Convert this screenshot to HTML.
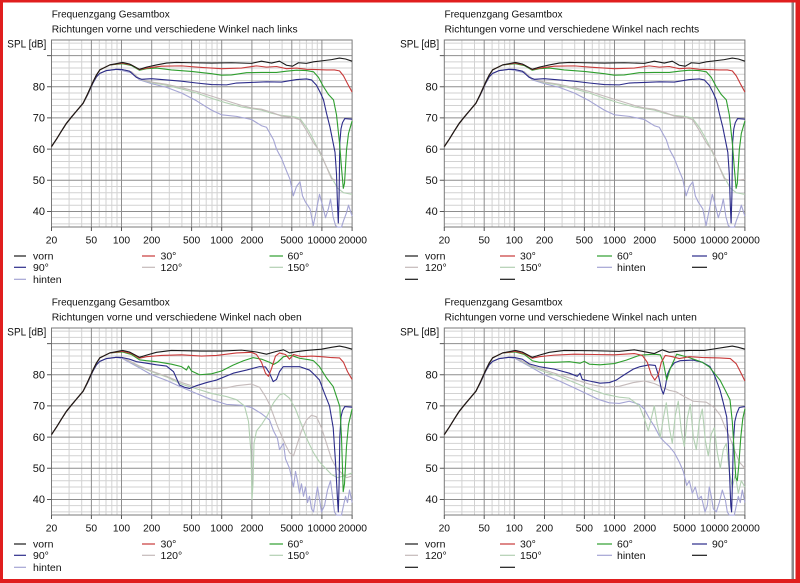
<!DOCTYPE html>
<html><head><meta charset="utf-8"><style>
html,body{margin:0;padding:0;background:#fff}
svg{display:block}
text{font-family:"Liberation Sans",Arial,sans-serif;fill:#111}
.t{font-size:10.5px}
.ax{font-size:11px}
.xl{font-size:10.3px}
.lg{font-size:10.5px}
polyline{fill:none;stroke-width:1.1;vector-effect:non-scaling-stroke;stroke-linejoin:round}
.k{stroke:#1a1a1a}.r{stroke:#c83a3a}.gr{stroke:#2e9e2e}.b{stroke:#2c2c8a}.c1{stroke:#c4baba}.c2{stroke:#b2d0b2}.h{stroke:#a4a4d4}
.ll{stroke-width:1.2;fill:none}
</style></head><body>
<svg width="800" height="583" viewBox="0 0 800 583" xmlns="http://www.w3.org/2000/svg">
<defs>
<g id="grid">
<path fill="none" stroke="#d2d2d2" stroke-width="1" d="M0 3.12H300.6M0 9.35H300.6M0 21.82H300.6M0 28.05H300.6M0 34.29H300.6M0 40.52H300.6M0 52.99H300.6M0 59.22H300.6M0 65.46H300.6M0 71.69H300.6M0 84.16H300.6M0 90.39H300.6M0 96.63H300.6M0 102.86H300.6M0 115.33H300.6M0 121.56H300.6M0 127.8H300.6M0 134.03H300.6M0 146.5H300.6M0 152.73H300.6M0 158.97H300.6M0 165.2H300.6M0 177.67H300.6M0 183.9H300.6
M17.6 0V187M30.2 0V187M47.8 0V187M54.5 0V187M60.3 0V187M65.5 0V187M117.8 0V187M130.4 0V187M148 0V187M154.7 0V187M160.5 0V187M165.6 0V187M218 0V187M230.6 0V187M248.2 0V187M254.9 0V187M260.7 0V187M265.8 0V187"/>
<path fill="none" stroke="#8e8e8e" stroke-width="1" d="M0 15.59H300.6M0 46.76H300.6M0 77.93H300.6M0 109.1H300.6M0 140.27H300.6M0 171.44H300.6
M39.9 0V187M70 0V187M100.2 0V187M140.1 0V187M170.2 0V187M200.4 0V187M240.3 0V187M270.4 0V187"/>
<rect x="0" y="0" width="300.6" height="187" fill="none" stroke="#7a7a7a" stroke-width="1"/>
<path fill="none" stroke="#555" stroke-width="1" d="M-4.5 15.59H0M-4.5 46.76H0M-4.5 77.93H0M-4.5 109.1H0M-4.5 140.27H0M-4.5 171.44H0
M0 187V191M39.9 187V191M70 187V191M100.2 187V191M140.1 187V191M170.2 187V191M200.4 187V191M240.3 187V191M270.4 187V191M300.6 187V191"/>
<g class="ax">
<text x="-6.5" y="50.4" text-anchor="end">80</text>
<text x="-6.5" y="81.6" text-anchor="end">70</text>
<text x="-6.5" y="112.8" text-anchor="end">60</text>
<text x="-6.5" y="144" text-anchor="end">50</text>
<text x="-6.5" y="175.1" text-anchor="end">40</text>
<text x="-44.2" y="7.5" textLength="39" lengthAdjust="spacingAndGlyphs">SPL [dB]</text>
</g>
<g class="xl">
<text x="0" y="203.3" text-anchor="middle">20</text>
<text x="39.9" y="203.3" text-anchor="middle">50</text>
<text x="70" y="203.3" text-anchor="middle">100</text>
<text x="100.2" y="203.3" text-anchor="middle">200</text>
<text x="140.1" y="203.3" text-anchor="middle">500</text>
<text x="170.2" y="203.3" text-anchor="middle">1000</text>
<text x="200.4" y="203.3" text-anchor="middle">2000</text>
<text x="240.3" y="203.3" text-anchor="middle">5000</text>
<text x="270.2" y="203.3" text-anchor="middle">10000</text>
<text x="301.2" y="203.3" text-anchor="middle">20000</text>
</g>
<text class="t" x="0.2" y="-22.5" textLength="118" lengthAdjust="spacingAndGlyphs">Frequenzgang Gesamtbox</text>
</g>
<g id="leg3">
<path class="ll" stroke="#1a1a1a" d="M-37.5 216H-25.5"/>
<path class="ll" stroke="#c83a3a" d="M90.5 216H103.5"/>
<path class="ll" stroke="#2e9e2e" d="M218 216H231.5"/>
<path class="ll" stroke="#2c2c8a" d="M-37.5 227.3H-25.5"/>
<path class="ll" stroke="#c4baba" d="M90.5 227.3H103.5"/>
<path class="ll" stroke="#b2d0b2" d="M218 227.3H231.5"/>
<path class="ll" stroke="#a4a4d4" d="M-37.5 239.3H-25.5"/>
<g class="lg">
<text x="-18.5" y="219.7">vorn</text><text x="109" y="219.7">30°</text><text x="236" y="219.7">60°</text>
<text x="-18.5" y="231">90°</text><text x="109" y="231">120°</text><text x="236" y="231">150°</text>
<text x="-18.5" y="243">hinten</text>
</g>
</g>
<g id="leg4">
<path class="ll" stroke="#1a1a1a" d="M-39.3 216H-26.3"/>
<path class="ll" stroke="#c83a3a" d="M55.7 216H70.7"/>
<path class="ll" stroke="#2e9e2e" d="M152.7 216H167.7"/>
<path class="ll" stroke="#2c2c8a" d="M247.7 216H262.7"/>
<path class="ll" stroke="#c4baba" d="M-39.3 227.3H-26.3"/>
<path class="ll" stroke="#b2d0b2" d="M55.7 227.3H70.7"/>
<path class="ll" stroke="#a4a4d4" d="M152.7 227.3H167.7"/>
<path class="ll" stroke="#1a1a1a" d="M247.7 227.3H262.7"/>
<path class="ll" stroke="#1a1a1a" d="M-39.3 239.3H-26.3"/>
<path class="ll" stroke="#1a1a1a" d="M55.7 239.3H70.7"/>
<g class="lg">
<text x="-19.3" y="219.7">vorn</text><text x="75.7" y="219.7">30°</text><text x="172.7" y="219.7">60°</text><text x="267.7" y="219.7">90°</text>
<text x="-19.3" y="231">120°</text><text x="75.7" y="231">150°</text><text x="172.7" y="231">hinten</text>
</g>
</g>
</defs>

<!-- TL -->
<g transform="translate(51.5,40)">
<use href="#grid"/>
<text class="t" x="0.2" y="-7.5" textLength="246" lengthAdjust="spacingAndGlyphs">Richtungen vorne und verschiedene Winkel nach links</text>
<g id="cTL" transform="scale(1,-3.117) translate(0,-95)">
<polyline class="h" points="0,60.8 5,63.2 10,65.8 15,68.3 20,70.3 25,72.2 31.6,74.7 36,77.4 41.6,81.3 45,83.2 48.3,84.3 55,85.2 65,85.6 71,85.2 80,84.5 88,82.2 100,81 115,79.8 130,78 145,75.5 160,72.5 170,71 185,70.5 200,69.5 210,67.5 215,67 222,63 225,60 230,57 235,53 238.5,50.3 241.8,45 245,48 248.5,49.5 251,45 254,43 258.5,40.8 261.8,35.5 264,39 268,45.5 271,42 274,38 277,41 279,44 281.6,38.3 284,35.5 286,35 290,35 292,37 295,39.6 297,42 300.6,38.5"/>
<polyline class="c2" points="0,60.8 5,63.2 10,65.8 15,68.3 20,70.3 25,72.2 31.6,74.7 36,77.4 41.6,81.3 45,83.2 48.3,84.3 55,85.2 65,85.6 71,85.5 80,84.8 88,82.5 100,81.3 115,80.5 130,79.3 145,78 160,76.3 175,74.8 190,73.5 200,73 210,72.5 220,71.5 230,70.8 240,70.5 248,70 256,66.5 262,63 268,59 274,55 280,51 286,47.5 292,46 300.6,45.5"/>
<polyline class="c1" points="0,60.8 5,63.2 10,65.8 15,68.3 20,70.3 25,72.2 31.6,74.7 36,77.4 41.6,81.3 45,83.2 48.3,84.3 55,85.2 65,85.6 71,85.5 80,84.8 88,82.5 100,81.5 115,80.8 130,79.7 145,78.5 160,77 175,75.5 190,74 200,73.2 210,72.8 220,71.8 230,70.6 240,70.2 248,69.5 255,66 262,62 268,59.5 272,56.5 276,53.5 280,50.5 285,50 292,50 300.6,50.3"/>
<polyline class="b" points="0,60.8 5,63.2 10,65.8 15,68.3 20,70.3 25,72.2 31.6,74.7 36,77.4 41.6,81.3 45,83.2 48.3,84.3 55,85.2 65,85.6 71,85.5 78,85 85,83 90,82.4 100,82.6 115,82.2 130,81.8 145,81.2 160,80.7 175,80.6 185,81.2 200,81.4 215,81.6 230,81.5 245,82.3 255,82.5 260,82.2 265,80.5 269,78 272,75.8 275,71.5 278.5,67 281,63 283.5,59 285,52 286,42 286.8,36.3 287.6,45 288.3,62 289.5,66.5 291,68.5 293.3,69.8 300.6,69.6"/>
<polyline class="gr" points="0,60.8 5,63.2 10,65.8 15,68.3 20,70.3 25,72.2 31.6,74.7 36,77.6 41.6,81.6 45,83.8 48.3,85.4 58.3,87 71,87.4 80,86.8 88,85.3 95,85.8 105,86 120,85.4 140,84.9 160,84.2 170,83.7 180,83.8 195,84.5 210,84.6 225,84.6 235,85 245,85.3 255,85.2 262,84.8 267,83 272,80 277,77.5 282,75.8 285,71 288,62 290,54 291.8,47.4 293,49 295,59.7 297,65 300.6,69"/>
<polyline class="r" points="0,60.8 5,63.2 10,65.8 15,68.3 20,70.3 25,72.2 31.6,74.7 36,77.6 41.6,81.6 45,83.8 48.3,85.4 58.3,87 71,87.6 80,87 88,85.5 95,86 110,86.6 130,86.7 150,86.2 170,85.8 190,86 205,86.7 215,86.3 225,86.5 235,85.8 245,86 255,85.6 265,85.5 275,85.4 283,85.4 288,85.1 292,83.5 296,81 300.6,78.3"/>
<polyline class="k" points="0,60.8 5,63.2 10,65.8 15,68.3 20,70.3 25,72.2 31.6,74.7 36,77.6 41.6,81.6 45,83.8 48.3,85.4 58.3,87 71,87.8 78,87.3 88,85.6 95,86.3 105,87 115,87.6 125,87.8 140,87.7 160,87.6 180,87.7 200,87.5 210,88.2 220,87.6 228,88.2 235,86.9 241,86.6 247,87.7 255,87.5 262,88 270,88.3 280,88.7 288,89.2 294,88.9 300.6,88.2"/>
</g>
<use href="#leg3"/>
</g>

<!-- TR -->
<g transform="translate(444.3,40)">
<use href="#grid"/>
<text class="t" x="0.2" y="-7.5" textLength="254.7" lengthAdjust="spacingAndGlyphs">Richtungen vorne und verschiedene Winkel nach rechts</text>
<use href="#cTL"/>
<use href="#leg4"/>
</g>

<!-- BL -->
<g transform="translate(51.5,328)">
<use href="#grid"/>
<text class="t" x="0.2" y="-7.5" textLength="250" lengthAdjust="spacingAndGlyphs">Richtungen vorne und verschiedene Winkel nach oben</text>
<g transform="scale(1,-3.117) translate(0,-95)">
<polyline class="h" points="0,60.8 5,63.2 10,65.8 15,68.3 20,70.3 25,72.2 31.6,74.7 36,77.4 41.6,81.3 45,83.2 48.3,84.3 55,85.2 65,85.6 71,85.2 88,82.2 100,80 115,78.2 130,76 145,74 160,72 175,70.5 190,70.2 200,69.5 210,67.5 218,65.5 222,62 226,59.5 228,56 232,58 234,53 238,50 240,47 242,44 244,49 246,46 248,42 250,45 252,41 254,44 256,39 258,41 260,37 262,36 264,40 266,44 268,40 270,36 273,38 276,43 279,46 281,41 283,36 285,35 290,35 292,38 294,41 296,39 298,43 300.6,39"/>
<polyline class="c2" points="0,60.8 5,63.2 10,65.8 15,68.3 20,70.3 25,72.2 31.6,74.7 36,77.4 41.6,81.3 45,83.2 48.3,84.3 55,85.2 65,85.6 71,85.5 88,82.6 100,81 115,79.3 130,77 145,75.5 160,74 175,73 185,72 193,70 197,65 199.5,55 200.5,40 201.5,45 202.5,58 205,62 210,64 216,67 222,71 228,73.5 232,74 238,72.5 244,69 250,64 256,59 262,55 268,52 274,50 280,48 286,47 292,47.5 300.6,48.5"/>
<polyline class="c1" points="0,60.8 5,63.2 10,65.8 15,68.3 20,70.3 25,72.2 31.6,74.7 36,77.4 41.6,81.3 45,83.2 48.3,84.3 55,85.2 65,85.6 71,85.5 88,82.8 100,81.2 115,79.5 130,77.5 145,76 160,75.5 175,75.8 185,76.5 200,77 208,76 214,73 218,70.5 222,67 226,63.5 230,60.5 234,57.5 238,55 242,54 246,58 250,62 255,65.5 260,67 265,66.5 270,63 275,58 280,53 285,50 290,48.5 295,47 300.6,47.5"/>
<polyline class="b" points="0,60.8 5,63.2 10,65.8 15,68.3 20,70.3 25,72.2 31.6,74.7 36,77.4 41.6,81.3 45,83.2 48.3,84.3 55,85.2 65,85.6 71,85.5 78,85 85,84.2 95,83.7 105,83.2 115,82.8 122,81 128,76.7 133,76 138,75.6 145,76.5 155,77.5 165,78.3 181.7,80.5 195,81.5 208,82.6 214,82.5 218,80.5 221.7,77.8 225,78.5 228,81 231.7,82.6 248,82.6 258,81.5 263,80 268,78.3 273,74 278,70 281.7,63 284,52 286,40 286.8,36 287.6,45 288.3,60 289.5,66.5 291,68.5 293.3,69.8 300.6,69.6"/>
<polyline class="gr" points="0,60.8 5,63.2 10,65.8 15,68.3 20,70.3 25,72.2 31.6,74.7 36,77.6 41.6,81.6 45,83.8 48.3,85.4 58.3,87 71,87.3 80,86.5 88,84.8 95,84.5 105,84.2 120,83.4 130,82.6 135,81.5 137,82.8 140,81.2 148,80 160,80.3 170,81.2 181.6,83.1 192,84.5 201.6,85.5 210,85 218,84 222,83.3 226,84 232,85.8 240,86.2 248,85.3 258,84.8 262,84.5 268,82.6 275,79 281.7,76.2 285,73 288.3,69.8 290,60 291.7,42.5 293,45 295,57 297,64 300.6,69"/>
<polyline class="r" points="0,60.8 5,63.2 10,65.8 15,68.3 20,70.3 25,72.2 31.6,74.7 36,77.6 41.6,81.6 45,83.8 48.3,85.4 58.3,87 71,87.5 80,86.8 88,85.3 95,85.8 110,86.2 130,86.4 150,86 165,86.2 185,87 200,87.2 205,86.5 210,84 214,80.5 217,79.5 220,82 224,86 228,87 234,86.5 238,85 242,86.5 250,85.8 260,86 270,85.8 280,85.5 288,85.4 292,84 296,81 300.6,78.5"/>
<polyline class="k" points="0,60.8 5,63.2 10,65.8 15,68.3 20,70.3 25,72.2 31.6,74.7 36,77.6 41.6,81.6 45,83.8 48.3,85.4 58.3,87 71,87.8 78,87.3 88,85.6 95,86.3 105,87.2 120,87.8 150,87.6 170,87.6 190,87.9 205,87.3 215,86.6 225,87.5 232,88 238,87 245,87.4 255,87.8 270,88.2 280,88.8 288,89.2 294,88.8 300.6,88.2"/>
</g>
<use href="#leg3"/>
</g>

<!-- BR -->
<g transform="translate(444.3,328)">
<use href="#grid"/>
<text class="t" x="0.2" y="-7.5" textLength="252.4" lengthAdjust="spacingAndGlyphs">Richtungen vorne und verschiedene Winkel nach unten</text>
<g transform="scale(1,-3.117) translate(0,-95)">
<polyline class="h" points="0,60.8 5,63.2 10,65.8 15,68.3 20,70.3 25,72.2 31.6,74.7 36,77.4 41.6,81.3 45,83.2 48.3,84.3 55,85.2 65,85.6 71,85.2 88,82.2 100,80 115,78 130,75.8 145,73.5 155,72 165,71 175,70.8 185,71.5 195,70.5 200,69 205,66 210,63.5 215.7,60 220,58.5 225,57 230,55 235,52 239,49 242.4,44.5 245,46 248,42 251,44 254,40 257,41 260.7,36 263,38 265,44 267,41 269,37 272,36 275,39 278,43 281,40 283,36 285,35 290,35 292,38 294,41 296,39 298,43 300.6,39"/>
<polyline class="c2" points="0,60.8 5,63.2 10,65.8 15,68.3 20,70.3 25,72.2 31.6,74.7 36,77.4 41.6,81.3 45,83.2 48.3,84.3 55,85.2 65,85.6 71,85.5 88,82.5 100,81 115,79.5 130,77.5 145,75.5 160,73.8 175,72.8 185,72.5 195,70 200,66 204,62 207,66 210,70 213,64 216,60 219,66 222,71 225,63 228,58 231,67 234,71.5 237,62 240,57 243,66 246,70.5 249,60 252,56 255,65 258,69 261,59 264,54 267,61 270,63 273,55 276,50 279,56 282,58 285,49 288,44 291,48 294,42 297,46 300.6,44"/>
<polyline class="c1" points="0,60.8 5,63.2 10,65.8 15,68.3 20,70.3 25,72.2 31.6,74.7 36,77.4 41.6,81.3 45,83.2 48.3,84.3 55,85.2 65,85.6 71,85.5 88,82.8 100,81.5 115,80 130,78.5 145,77 160,76 175,76.3 189,77.5 200,78 210,77.2 218,76 225,75 232,74.5 240,73 249,71.5 262,71.2 270,69.5 276,67 281,63 286,59.5 290,56 295,52 300.6,50"/>
<polyline class="b" points="0,60.8 5,63.2 10,65.8 15,68.3 20,70.3 25,72.2 31.6,74.7 36,77.4 41.6,81.3 45,83.2 48.3,84.3 55,85.2 65,85.6 71,85.5 78,85 85,83.5 95,82.6 110,81.8 125,80.5 133,79.5 135.7,80.5 138,78.5 145,78 155.7,77.3 165,77.5 172,78.3 180,80 189,81.8 195.7,82.6 205,83.2 211,83 214,80 217,75.5 219,73.8 221,76 223,80 225.7,82 230,83.8 235.7,84.5 249,84.7 258,84 265.7,82.6 270,80 275.7,75.1 279,71 282.4,66.5 284,58 285.5,46 286.5,38 287.3,36 288,44 289,58 290.5,65 292.4,67.5 295,69.5 300.6,69.8"/>
<polyline class="gr" points="0,60.8 5,63.2 10,65.8 15,68.3 20,70.3 25,72.2 31.6,74.7 36,77.6 41.6,81.6 45,83.8 48.3,85.4 58.3,87 71,87.3 80,86.5 88,84.5 95,84 110,84 125,84.2 135.7,83.7 140,84.3 145,83.4 155.7,83.2 170,83.6 182,84.7 195.7,86.3 210,86.6 216,86.4 219,84 222.4,78.3 226,82 232.4,86.6 245,85.5 258,84 265,82.5 270,80.5 275.7,78.3 281,75 285.7,72 288,65 290,55 291.5,47 293,46 294.5,51 296.5,60 298.5,66 300.6,69"/>
<polyline class="r" points="0,60.8 5,63.2 10,65.8 15,68.3 20,70.3 25,72.2 31.6,74.7 36,77.6 41.6,81.6 45,83.8 48.3,85.4 58.3,87 71,87.5 80,86.8 88,85.3 95,85.8 110,86.3 130,86.6 150,86.5 170,86.4 190,86.8 198,86.2 203,84 207,80 210.5,78.3 214,80 217,84 221,86.2 228,85.8 235,85.2 245,85.8 260,85.5 275,85.4 286,85.2 292,83.5 296,81 300.6,78"/>
<polyline class="k" points="0,60.8 5,63.2 10,65.8 15,68.3 20,70.3 25,72.2 31.6,74.7 36,77.6 41.6,81.6 45,83.8 48.3,85.4 58.3,87 71,87.8 78,87.3 88,85.6 95,86.3 105,87.2 120,87.8 150,87.7 175,87.5 190,88 200,87.4 210,86.8 218,88 225,87.2 235,87.6 245,87.8 260,87.8 270,88.3 280,88.8 288,89.2 294,88.8 300.6,88.2"/>
</g>
<use href="#leg4"/>
</g>

<!-- window frame -->
<rect x="791.5" y="0" width="2.5" height="583" fill="#8a8a8a"/>
<rect x="0" y="0" width="800" height="2.5" fill="#e01e1e"/>
<rect x="0" y="0" width="3" height="583" fill="#e01e1e"/>
<rect x="795.5" y="0" width="4.5" height="583" fill="#e01e1e"/>
<rect x="0" y="579" width="800" height="4" fill="#e01e1e"/>
</svg>
</body></html>
